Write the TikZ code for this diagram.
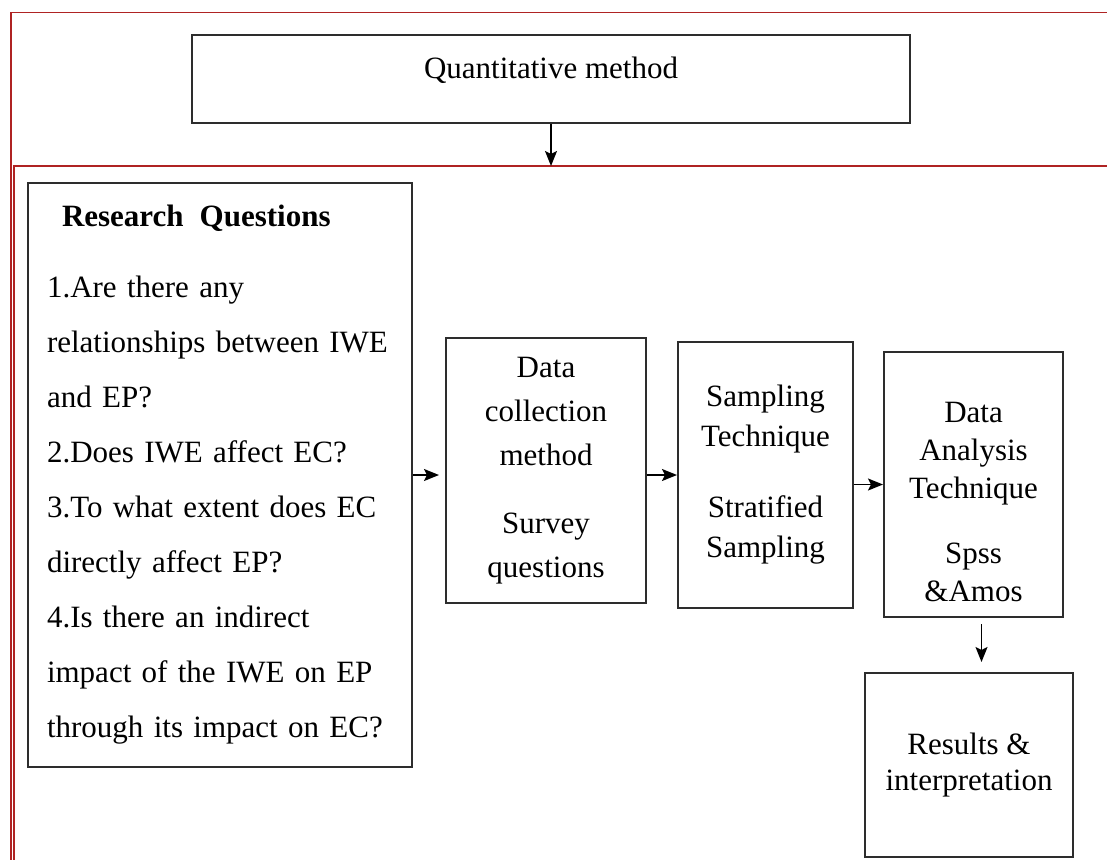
\documentclass[tikz,border=0pt]{standalone}
\usepackage{fontspec}
\setmainfont{Liberation Serif}
\usepackage{tikz}
\usetikzlibrary{arrows.meta, positioning}

\definecolor{framered}{RGB}{175,35,35}
\definecolor{boxgray}{RGB}{45,45,45}

\begin{document}
\begin{tikzpicture}[x=1pt, y=-1pt, >={Stealth[length=15pt, width=12pt, inset=3pt]},
    box/.style={draw=boxgray, line width=2pt, rectangle, align=center, inner sep=0pt},
    txt/.style={font=\fontsize{31}{#1}\selectfont},
    frame/.style={draw=framered, line width=1.6pt},
    arr/.style={->, line width=1.6pt}]

    \useasboundingbox (0,0) rectangle (1107,859);

    % red page frames
    \draw [frame] (11,880) -- (11,12.5) -- (1120,12.5);
    \coordinate (panel) at (14,166);
    \draw [frame] (14,880) -- (panel) -- (1120,166);

    \node [box, minimum width=718pt, minimum height=88pt, txt=40, text depth=23.5pt] (quant) at (551,79) {Quantitative method};
    \node [box, minimum width=384pt, minimum height=584pt, align=left, text width=346pt, txt=55] (rq) at (220,475) {\hspace*{15pt}\textbf{Research\hspace{16pt}Questions}\\[16pt] 1.Are there any\\ relationships between IWE\\ and EP?\\ 2.Does IWE affect EC?\\ 3.To what extent does EC\\ directly affect EP?\\ 4.Is there an indirect\\ impact of the IWE on EP\\ through its impact on EC?};
    \node [box, minimum width=200pt, minimum height=265pt, txt=44] (dc) at (546,470.5) {Data\\ collection\\ method\\[24pt] Survey\\ questions};
    \node [box, minimum width=175pt, minimum height=266pt, txt=40] (samp) at (765.5,475) {Sampling\\ Technique\\[31pt] Stratified\\ Sampling};
    \node [box, minimum width=179pt, minimum height=265pt, txt=38] (da) at (973.5,484.5) {\rule{0pt}{55pt}Data\\ Analysis\\ Technique\\[27pt] Spss\\ \&Amos};
    \node [box, minimum width=208pt, minimum height=184pt, txt=36] (res) at (969,765) {Results \&\\ interpretation};

    \draw [arr] (quant.south) -- (quant.south |- panel);
    \draw [arr, shorten >=6pt] (rq.east) -- (rq.east -| dc.west);
    \draw [arr] (samp.west -| dc.east) -- (samp.west);
    \draw [arr] (da.west -| samp.east) -- (da.west);
    \draw [arr, shorten <=6pt, shorten >=10pt] ([xshift=8pt]da.south) -- ([xshift=8pt]da.south |- res.north);
\end{tikzpicture}
\end{document}
